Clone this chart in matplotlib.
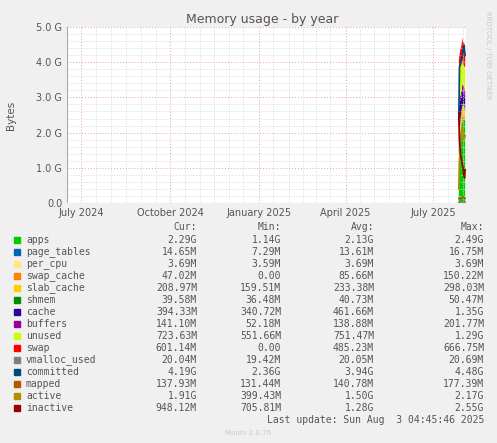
import numpy as np
import matplotlib.pyplot as plt
import matplotlib.dates as mdates

# series data (GB), samples over the last week of the range
dates = np.array(['2025-07-27T12', '2025-07-28T06', '2025-07-29T00', '2025-07-29T18', '2025-07-30T12',
                  '2025-07-31T06', '2025-08-01T00', '2025-08-01T18', '2025-08-02T12', '2025-08-03T04'],
                 dtype='datetime64[h]')
apps = [1.14, 1.60, 1.95, 2.10, 2.20, 2.30, 2.35, 2.49, 2.40, 2.29]
page_tables = [0.0073, 0.010, 0.012, 0.013, 0.014, 0.015, 0.016, 0.0168, 0.015, 0.0147]
per_cpu = [0.0036] * 10
swap_cache = [0.0, 0.05, 0.08, 0.10, 0.12, 0.15, 0.10, 0.08, 0.06, 0.047]
slab_cache = [0.16, 0.20, 0.22, 0.25, 0.28, 0.30, 0.26, 0.24, 0.22, 0.209]
shmem = [0.036, 0.038, 0.040, 0.041, 0.045, 0.050, 0.042, 0.040, 0.040, 0.040]
cache = [1.35, 0.90, 0.60, 0.45, 0.40, 0.38, 0.36, 0.34, 0.36, 0.394]
buffers = [0.052, 0.10, 0.13, 0.15, 0.17, 0.20, 0.18, 0.16, 0.15, 0.141]
unused = [1.29, 1.0, 0.85, 0.78, 0.72, 0.70, 0.60, 0.55, 0.62, 0.724]
swap = [0.0, 0.30, 0.45, 0.52, 0.55, 0.60, 0.63, 0.667, 0.62, 0.601]
vmalloc_used = [0.0194, 0.0198, 0.0200, 0.0201, 0.0202, 0.0205, 0.0207, 0.0204, 0.0203, 0.0200]
committed = [2.36, 3.85, 3.95, 4.0, 4.1, 4.2, 4.3, 4.48, 4.3, 4.19]
mapped = [0.131, 0.135, 0.138, 0.140, 0.142, 0.150, 0.177, 0.145, 0.140, 0.138]
active = [0.40, 1.20, 1.50, 1.70, 1.80, 2.17, 1.90, 1.80, 1.85, 1.91]
inactive = [2.55, 1.80, 1.50, 1.30, 1.20, 1.10, 1.00, 0.80, 0.71, 0.95]

names = ['apps', 'page_tables', 'per_cpu', 'swap_cache', 'slab_cache', 'shmem', 'cache',
         'buffers', 'unused', 'swap', 'vmalloc_used', 'committed', 'mapped', 'active', 'inactive']
colors = ['#00CC00', '#0066B3', '#FFE680', '#FF8000', '#FFCC00', '#008F00', '#330099',
          '#990099', '#CCFF00', '#FF0000', '#808080', '#00487D', '#B35A00', '#B38F00', '#990000']
cur = ['2.29G', '14.65M', '3.69M', '47.02M', '208.97M', '39.58M', '394.33M', '141.10M',
       '723.63M', '601.14M', '20.04M', '4.19G', '137.93M', '1.91G', '948.12M']
mins = ['1.14G', '7.29M', '3.59M', '0.00', '159.51M', '36.48M', '340.72M', '52.18M',
        '551.66M', '0.00', '19.42M', '2.36G', '131.44M', '399.43M', '705.81M']
avgs = ['2.13G', '13.61M', '3.69M', '85.66M', '233.38M', '40.73M', '461.66M', '138.88M',
        '751.47M', '485.23M', '20.05M', '3.94G', '140.78M', '1.50G', '1.28G']
maxs = ['2.49G', '16.75M', '3.69M', '150.22M', '298.03M', '50.47M', '1.35G', '201.77M',
        '1.29G', '666.75M', '20.69M', '4.48G', '177.39M', '2.17G', '2.55G']

fig = plt.figure(figsize=(4.97, 4.43), dpi=100, facecolor='#F0F0F0')
ax = fig.add_axes([67 / 497, 1 - 203 / 443, 399 / 497, 176 / 443])
ax.set_facecolor('white')

x = dates.astype('datetime64[s]').astype(object)
stack = [apps, page_tables, per_cpu, swap_cache, slab_cache, shmem, cache, buffers, unused, swap]
ax.stackplot(x, *stack, colors=colors[:10], linewidth=0)
for vals, c in zip([vmalloc_used, committed, mapped, active, inactive], colors[10:]):
    ax.plot(x, vals, color=c, lw=1.2)

ax.set_xlim(np.datetime64('2024-06-16').astype(object), np.datetime64('2025-08-04').astype(object))
ax.set_ylim(0, 5.0)
ax.set_yticks(np.arange(0, 5.01, 1.0))
ax.set_yticklabels(['%.1f G' % v if v > 0 else '0.0' for v in np.arange(0, 5.01, 1.0)])
ax.set_yticks(np.arange(0, 5.01, 0.2), minor=True)
ax.xaxis.set_major_locator(mdates.MonthLocator(bymonth=[1, 4, 7, 10]))
ax.xaxis.set_major_formatter(mdates.DateFormatter('%B %Y'))
ax.xaxis.set_minor_locator(mdates.MonthLocator(bymonthday=[1, 16]))
ax.grid(which='minor', color='#DDDDDD', ls=(0, (1, 1)), lw=0.6)
ax.grid(which='major', color='#E8A0A0', ls=(0, (1, 2)), lw=0.7)
ax.tick_params(labelsize=7, colors='#555555', length=0)
ax.tick_params(which='minor', length=0)
for s in ax.spines.values():
    s.set_visible(False)
ax.axhline(0, color='#AAAAAA', lw=0.8)
ax.axvline(ax.get_xlim()[0], color='#AAAAAA', lw=0.8)

fig.text(262 / 497, 1 - 19 / 443, 'Memory usage - by year', ha='center', va='center',
         fontsize=9, color='#555555')
fig.text(11 / 497, 1 - 115 / 443, 'Bytes', rotation=90, ha='center', va='center',
         fontsize=7.5, color='#555555')
fig.text(488 / 497, 1 - 55 / 443, 'RRDTOOL / TOBI OETIKER', rotation=270, ha='center',
         va='center', fontsize=5, color='#C8C8C8')

mono = dict(family='DejaVu Sans Mono', fontsize=7, color='#555555', va='center')
hy = 1 - 227 / 443
for lab, px in [('Cur:', 197), ('Min:', 281), ('Avg:', 374), ('Max:', 484)]:
    fig.text(px / 497, hy, lab, ha='right', **mono)
for i, n in enumerate(names):
    yy = 1 - (240 + 12 * i) / 443
    fig.patches.append(plt.Rectangle((14 / 497, yy - 3 / 443), 6 / 497, 6 / 443,
                                     color=colors[i], transform=fig.transFigure))
    fig.text(26 / 497, yy, n, ha='left', **mono)
    for col, px in [(cur, 197), (mins, 281), (avgs, 374), (maxs, 484)]:
        fig.text(px / 497, yy, col[i], ha='right', **mono)
fig.text(484 / 497, 1 - 420 / 443, 'Last update: Sun Aug  3 04:45:46 2025', ha='right', **mono)
fig.text(248 / 497, 1 - 433 / 443, 'Munin 2.0.76', ha='center', va='center',
         fontsize=5, color='#C8C8C8')

fig.savefig('out.png', dpi=100, facecolor=fig.get_facecolor())
